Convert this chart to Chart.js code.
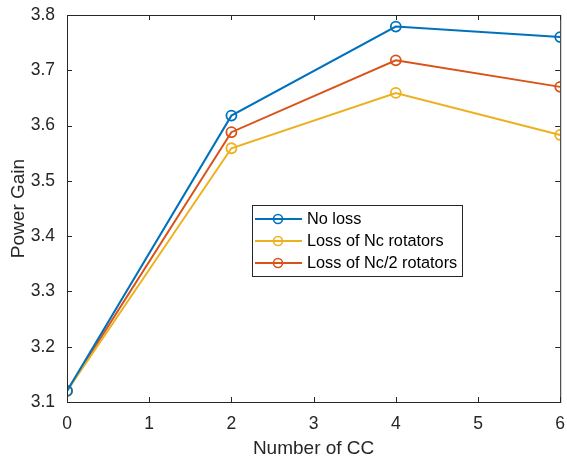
<!DOCTYPE html>
<html>
<head>
<meta charset="utf-8">
<script src="https://cdn.jsdelivr.net/npm/chart.js@4"></script>
<style>
  html, body { margin: 0; padding: 0; background: #fff; }
  #wrap { width: 567px; height: 460px; }
</style>
</head>
<body>
<div id="wrap"><canvas id="chart" width="567" height="460"></canvas></div>
<script>
// values
const ccCounts = [0, 2, 4, 6];
const noLoss = [3.120, 3.618, 3.779, 3.760];
const lossNc = [3.120, 3.559, 3.659, 3.583];
const lossNcHalf = [3.120, 3.588, 3.718, 3.670];
const xTicks = [0, 1, 2, 3, 4, 5, 6];
const yTicks = [3.1, 3.2, 3.3, 3.4, 3.5, 3.6, 3.7, 3.8];

const axisColor = '#262626';
const fontFamily = '"Liberation Sans", Arial, sans-serif';

function series(label, ys, color) {
	return {
		label: label,
		data: ccCounts.map((x, i) => ({ x: x, y: ys[i] })),
		borderColor: color,
		backgroundColor: 'rgba(255,255,255,0)',
		borderWidth: 2,
		pointRadius: 5,
		pointBorderWidth: 1.8,
		pointBackgroundColor: 'rgba(255,255,255,0)',
		pointBorderColor: color,
		tension: 0
	};
}

// MATLAB-like box with inward ticks
const boxPlugin = {
	id: 'box',
	afterDraw(chart) {
		const { ctx, chartArea: a, scales } = chart;
		ctx.save();
		ctx.strokeStyle = axisColor;
		ctx.lineWidth = 1;
		ctx.strokeRect(a.left + 0.5, a.top + 0.5, a.right - a.left, a.bottom - a.top);
		const len = 5;
		ctx.beginPath();
		xTicks.forEach(v => {
			const px = Math.round(scales.x.getPixelForValue(v)) + 0.5;
			ctx.moveTo(px, a.bottom); ctx.lineTo(px, a.bottom - len);
			ctx.moveTo(px, a.top); ctx.lineTo(px, a.top + len);
		});
		yTicks.forEach(v => {
			const py = Math.round(scales.y.getPixelForValue(v)) + 0.5;
			ctx.moveTo(a.left, py); ctx.lineTo(a.left + len, py);
			ctx.moveTo(a.right, py); ctx.lineTo(a.right - len, py);
		});
		ctx.stroke();
		ctx.restore();
	}
};

// legend box inside the plot
const legendPlugin = {
	id: 'boxLegend',
	afterDraw(chart) {
		const { ctx } = chart;
		const x0 = 252, y0 = 205, w = 210, h = 71;
		ctx.save();
		ctx.fillStyle = '#fff';
		ctx.fillRect(x0, y0, w, h);
		ctx.strokeStyle = '#262626';
		ctx.lineWidth = 1;
		ctx.strokeRect(x0 + 0.5, y0 + 0.5, w, h);
		ctx.font = '16.3px ' + fontFamily;
		ctx.textBaseline = 'middle';
		chart.data.datasets.forEach((ds, i) => {
			const cy = y0 + 14 + i * 22;
			ctx.strokeStyle = ds.borderColor;
			ctx.lineWidth = 2;
			ctx.beginPath();
			ctx.moveTo(x0 + 3, cy); ctx.lineTo(x0 + 50, cy);
			ctx.stroke();
			ctx.lineWidth = 1.6;
			ctx.beginPath();
			ctx.arc(x0 + 26, cy, 4.5, 0, Math.PI * 2);
			ctx.stroke();
			ctx.fillStyle = '#000';
			ctx.fillText(ds.label, x0 + 55, cy + 1);
		});
		ctx.restore();
	}
};

new Chart(document.getElementById('chart'), {
	type: 'line',
	data: {
		datasets: [
			series('No loss', noLoss, '#0072BD'),
			series('Loss of Nc rotators', lossNc, '#EDB120'),
			series('Loss of Nc/2 rotators', lossNcHalf, '#D95319')
		]
	},
	options: {
		responsive: false,
		animation: false,
		layout: { padding: { top: 15, right: 4, left: 0, bottom: 0 } },
		plugins: { legend: { display: false }, tooltip: { enabled: false } },
		scales: {
			x: {
				type: 'linear',
				min: 0, max: 6,
				afterBuildTicks: s => { s.ticks = xTicks.map(v => ({ value: v })); },
				afterFit: s => { s.height = 58; s.paddingLeft = 0; s.paddingRight = 0; },
				grid: { display: false },
				border: { display: false },
				ticks: { color: axisColor, font: { family: fontFamily, size: 17.5 }, padding: 4, maxRotation: 0 },
				title: { display: true, text: 'Number of CC', color: axisColor, font: { family: fontFamily, size: 19 }, padding: { top: 0, bottom: 0 } }
			},
			y: {
				min: 3.1, max: 3.8,
				afterBuildTicks: s => { s.ticks = yTicks.map(v => ({ value: v })); },
				afterFit: s => { s.width = 67; s.paddingTop = 0; s.paddingBottom = 0; },
				grid: { display: false },
				border: { display: false },
				ticks: { color: axisColor, font: { family: fontFamily, size: 17.5 }, padding: 4, callback: v => v.toFixed(1) },
				title: { display: true, text: 'Power Gain', color: axisColor, font: { family: fontFamily, size: 19 }, padding: { top: 7, bottom: 0 } }
			}
		}
	},
	plugins: [boxPlugin, legendPlugin]
});
</script>
</body>
</html>
